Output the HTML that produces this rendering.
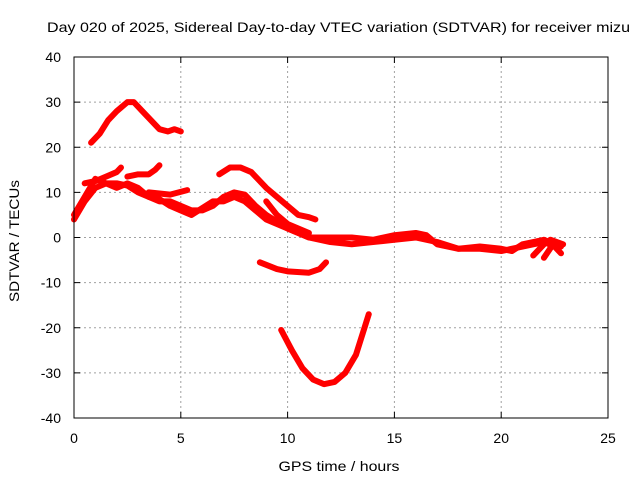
<!DOCTYPE html>
<html><head><meta charset="utf-8"><style>
body{margin:0;background:#fff}
text{font-family:"Liberation Sans",sans-serif;font-size:14px;fill:#000}
</style></head><body>
<svg id="chart" width="640" height="480" xmlns="http://www.w3.org/2000/svg">
<rect width="640" height="480" fill="#fff"/>
<text x="47" y="32" textLength="583" lengthAdjust="spacingAndGlyphs">Day 020 of 2025, Sidereal Day-to-day VTEC variation (SDTVAR) for receiver mizu</text>
<g id="grid"></g>
<g id="ticks"></g>
<g id="series"></g>
<rect x="74" y="57" width="534" height="361" fill="none" stroke="#000" stroke-width="1"/>
<text x="339" y="471" text-anchor="middle" textLength="121" lengthAdjust="spacingAndGlyphs">GPS time / hours</text>
<text x="0" y="0" text-anchor="middle" textLength="122" lengthAdjust="spacingAndGlyphs" transform="translate(19,241) rotate(-90)">SDTVAR / TECUs</text>
</svg>
<script>
const xTicks=[0,5,10,15,20,25];
const yTicks=[-40,-30,-20,-10,0,10,20,30,40];
const series1=[[0.8,21],[1.2,23],[1.6,26],[2.0,28],[2.5,30],[2.8,30],[3.2,28],[3.6,26],[4.0,24],[4.4,23.5],[4.7,24],[5.0,23.5]];
const series2=[[0.5,12],[1,12.5],[1.5,13.5],[2,14.5],[2.2,15.5]];
const series3=[[2.5,13.5],[3,14],[3.5,14],[3.8,15],[4.0,16]];
const series4=[[0,4],[0.5,8],[1,11],[1.5,12],[2,12],[2.5,11.5],[3,10],[3.5,9],[4,8.5],[4.5,7],[5,6],[5.5,5],[6,6.5],[6.5,8],[7,8],[7.5,9],[8,8],[8.5,6],[9,4],[9.5,3],[10,2],[10.5,1],[11,0],[12,-1],[13,-1.5],[14,-1],[15,-0.5],[16,0],[17,-1],[18,-2.5],[19,-2.5],[20,-3],[21,-2],[22,-1],[22.5,-2],[22.8,-3.5]];
const series5=[[0,5],[0.5,9],[1,13],[1.5,12],[2,11],[2.5,12],[3,11],[3.5,9],[4,8],[4.5,8],[5,7],[5.5,6],[6,6],[6.5,7],[7,9],[7.5,10],[8,9.5],[8.5,7],[9,5],[9.5,3.5],[10,2],[11,0],[12,0],[13,0],[14,-0.5],[15,0.5],[16,1],[16.5,0.5],[17,-1.5],[18,-2.5],[19,-2],[20,-2.5],[20.5,-3],[21,-1.5],[22,-0.5],[22.8,-2]];
const series6=[[3.5,10],[4.5,9.5],[5.3,10.5]];
const series7=[[6.8,14],[7.3,15.5],[7.8,15.5],[8.3,14.5],[9,11],[10,7],[10.5,5],[11,4.5],[11.3,4]];
const series8=[[9,8],[9.5,5],[10,3],[10.5,2],[11,1]];
const series9=[[8.7,-5.5],[9.5,-7],[10,-7.5],[11,-7.8],[11.5,-7],[11.8,-5.5]];
const series10=[[9.7,-20.5],[10.2,-25],[10.7,-29],[11.2,-31.5],[11.7,-32.5],[12.2,-32],[12.7,-30],[13.2,-26],[13.6,-20],[13.8,-17]];
const series11=[[21.5,-4],[22,-1.5]];
const series12=[[22,-4.5],[22.5,-1]];
const series13=[[22.3,-0.5],[22.9,-1.5]];
const allSeries=[series1,series2,series3,series4,series5,series6,series7,series8,series9,series10,series11,series12,series13];
const X0=74,X1=608,Y0=418,Y1=57;
const xs=h=>X0+(h-0)/25*(X1-X0);
const ys=v=>Y0-(v+40)/80*(Y0-Y1);
const NS="http://www.w3.org/2000/svg";
const grid=document.getElementById('grid'),ticks=document.getElementById('ticks'),sg=document.getElementById('series');
function mk(t,a,p){const e=document.createElementNS(NS,t);for(const k in a)e.setAttribute(k,a[k]);p.appendChild(e);return e;}
xTicks.forEach(t=>{const x=xs(t);
 if(t>0&&t<25){const g=mk('line',{x1:x,x2:x,y1:Y0,y2:Y1,stroke:'#a0a0a0','stroke-dasharray':'2,3'},grid);
 
 }
 mk('line',{x1:x,x2:x,y1:Y0,y2:Y0-6,stroke:'#000'},ticks);mk('line',{x1:x,x2:x,y1:Y1,y2:Y1+6,stroke:'#000'},ticks);
 const l=mk('text',{x:x,y:Y0+25,'text-anchor':'middle'},ticks);l.textContent=t;
 
 });
yTicks.forEach(t=>{const y=ys(t);
 if(t>-40&&t<40){const g=mk('line',{x1:X0,x2:X1,y1:y,y2:y,stroke:'#a0a0a0','stroke-dasharray':'2,3'},grid);
 
 }
 mk('line',{x1:X0,x2:X0+6,y1:y,y2:y,stroke:'#000'},ticks);mk('line',{x1:X1,x2:X1-6,y1:y,y2:y,stroke:'#000'},ticks);
 const l=mk('text',{x:X0-13,y:y+5,'text-anchor':'end'},ticks);l.textContent=t;
 
 });
allSeries.forEach((s,i)=>{
 const p=mk('polyline',{points:s.map(d=>xs(d[0])+','+ys(d[1])).join(' '),fill:'none',stroke:'#ff0000','stroke-width':6,'stroke-linejoin':'round','stroke-linecap':'round'},sg);
 
 });
</script>
</body></html>
